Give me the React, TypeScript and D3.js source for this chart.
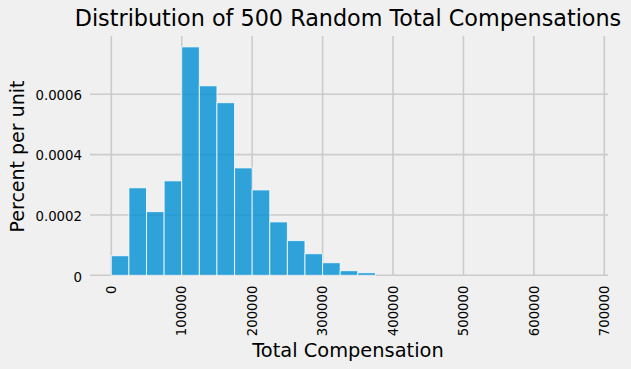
import React from "react";
import * as d3 from "d3";

// histogram of total compensation, bins of 25000 starting at 0
const binStarts = [
  0, 25000, 50000, 75000, 100000, 125000, 150000, 175000,
  200000, 225000, 250000, 275000, 300000, 325000, 350000,
];
const binWidth = 25000;
// percent per unit
const density = [
  0.0000649, 0.00029, 0.000211, 0.000313, 0.000757, 0.000628, 0.000572,
  0.000356, 0.000283, 0.000177, 0.000115, 0.0000715, 0.0000417, 0.0000152,
  0.0000086,
];
const xTicks = [0, 100000, 200000, 300000, 400000, 500000, 600000, 700000];
const yTicks = [0, 0.0002, 0.0004, 0.0006];
const yTickLabels = ["0", "0.0002", "0.0004", "0.0006"];

const W = 631;
const H = 369;
const plot = { left: 90, right: 608, top: 36, bottom: 275.3 };
const font = "DejaVu Sans, sans-serif";

export default function App() {
  const x = d3.scaleLinear().domain([-30246, 705254]).range([plot.left, plot.right]);
  const y = d3.scaleLinear().domain([0, 0.000793]).range([plot.bottom, plot.top]);

  return (
    <svg
      width={W}
      height={H}
      style={{ position: "absolute", left: 0, top: 0, display: "block" }}
    >
      <rect width={W} height={H} fill="#f0f0f0" />

      {/* grid */}
      {yTicks.map((t) => (
        <line
          key={"gy" + t}
          x1={plot.left}
          x2={plot.right}
          y1={y(t)}
          y2={y(t)}
          stroke="#cbcbcb"
          strokeWidth={1.6}
        />
      ))}
      {xTicks.map((t) => (
        <line
          key={"gx" + t}
          x1={x(t)}
          x2={x(t)}
          y1={plot.top}
          y2={plot.bottom}
          stroke="#cbcbcb"
          strokeWidth={1.6}
        />
      ))}

      {/* bars */}
      {binStarts.map((s, i) => (
        <rect
          key={"b" + s}
          x={x(s)}
          y={y(density[i])}
          width={x(s + binWidth) - x(s)}
          height={y(0) - y(density[i])}
          fill="#008fd5"
          fillOpacity={0.8}
          stroke="#ffffff"
          strokeOpacity={0.8}
          strokeWidth={1}
        />
      ))}

      {/* y tick labels */}
      {yTicks.map((t, i) => (
        <text
          key={"ty" + t}
          x={82}
          y={y(t) + (t === 0 ? 2 : 0.7)}
          dy="0.37em"
          textAnchor="end"
          fontFamily={font}
          fontSize={13.3}
          fill="#000"
        >
          {yTickLabels[i]}
        </text>
      ))}

      {/* x tick labels, rotated */}
      {xTicks.map((t) => (
        <text
          key={"tx" + t}
          transform={`translate(${x(t)},${285.5}) rotate(-90)`}
          dy="0.35em"
          textAnchor="end"
          fontFamily={font}
          fontSize={13.3}
          fill="#000"
        >
          {String(t)}
        </text>
      ))}

      {/* axis titles */}
      <text
        x={348}
        y={357}
        textAnchor="middle"
        fontFamily={font}
        fontSize={19.4}
        fill="#000"
      >
        Total Compensation
      </text>
      <text
        transform={`translate(24,${156.5}) rotate(-90)`}
        textAnchor="middle"
        fontFamily={font}
        fontSize={19}
        fill="#000"
      >
        Percent per unit
      </text>

      <text
        x={348}
        y={26}
        textAnchor="middle"
        fontFamily={font}
        fontSize={22.3}
        fill="#000"
      >
        Distribution of 500 Random Total Compensations
      </text>
    </svg>
  );
}
